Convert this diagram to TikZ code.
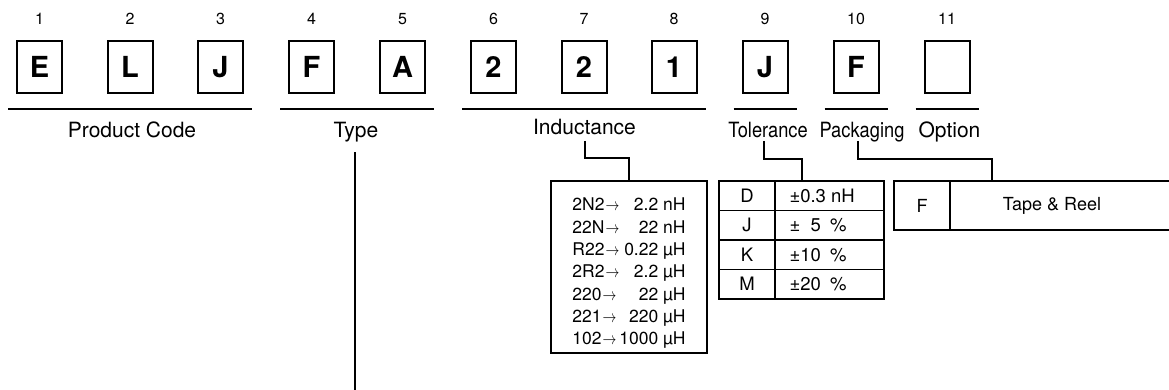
\documentclass[tikz,border=0pt]{standalone}
\usepackage{fontspec}
\setmainfont{TeX Gyre Heros}
\usepackage{graphicx}
\usetikzlibrary{positioning,calc}

\newcommand{\tarrow}{\hspace{1pt}\scalebox{0.8}[1]{$\rightarrow$}}

\tikzset{
  digit/.style={draw, line width=2pt, minimum width=45pt, minimum height=52pt, inner sep=0pt, font=\fontsize{29}{29}\selectfont\bfseries},
  posno/.style={inner sep=0pt, font=\fontsize{16}{16}\selectfont},
  group/.style={inner sep=0pt, anchor=base, font=\fontsize{21}{21}\selectfont},
  bar/.style={line width=1.8pt},
  link/.style={line width=2pt},
  cell/.style={draw, line width=1.6pt, outer sep=0pt, inner sep=0pt, minimum height=29.5pt, font=\fontsize{18.5}{18.5}\selectfont},
}

\begin{document}
\begin{tikzpicture}[x=1pt, y=-1pt]

\useasboundingbox[fill=white] (0,0) rectangle (1169,390);

% code letters
\node[digit] (b1) at (39.5,67) {E};
\node[digit] (b2) at (130,67) {L};
\node[digit] (b3) at (220.5,67) {J};
\node[digit] (b4) at (311.5,67) {F};
\node[digit] (b5) at (402.5,67) {A};
\node[digit] (b6) at (493.5,67) {2};
\node[digit] (b7) at (584,67) {2};
\node[digit] (b8) at (674,67) {1};
\node[digit] (b9) at (765,67) {J};
\node[digit] (b10) at (856,67) {F};
\node[digit] (b11) at (947,67) {};

% position numbers
\node[posno, above=15pt of b1] (p1) {1};
\node[posno, above=15pt of b2] (p2) {2};
\node[posno, above=15pt of b3] (p3) {3};
\node[posno, above=15pt of b4] (p4) {4};
\node[posno, above=15pt of b5] (p5) {5};
\node[posno, above=15pt of b6] (p6) {6};
\node[posno, above=15pt of b7] (p7) {7};
\node[posno, above=15pt of b8] (p8) {8};
\node[posno, above=15pt of b9] (p9) {9};
\node[posno, above=15pt of b10] (p10) {10};
\node[posno, above=15pt of b11] (p11) {11};

% underlines
\draw[bar] ([shift={(-8pt,-15pt)}]b1.south west) -- ([shift={(8pt,-15pt)}]b3.south east);
\draw[bar] ([shift={(-8pt,-15pt)}]b4.south west) -- ([shift={(8pt,-15pt)}]b5.south east);
\draw[bar] ([shift={(-8pt,-15pt)}]b6.south west) -- ([shift={(8pt,-15pt)}]b8.south east);
\draw[bar] ([shift={(-8pt,-15pt)}]b9.south west) -- ([shift={(8pt,-15pt)}]b9.south east);
\draw[bar] ([shift={(-8pt,-15pt)}]b10.south west) -- ([shift={(8pt,-15pt)}]b10.south east);
\draw[bar] ([shift={(-8pt,-15pt)}]b11.south west) -- ([shift={(8pt,-15pt)}]b11.south east);

% group names
\node[group] (prod) at (132,138) {Product Code};
\node[group] (type) at (356,137.5) {Type};
\node[group] (ind) at (584.5,135) {Inductance};
\node[group] (tol) at (768,138) {\scalebox{0.87}[1]{Tolerance}};
\node[group] (pack) at (862,138) {\scalebox{0.87}[1]{Packaging}};
\node[group] (opt) at (949.5,138) {Option};

% inductance codes
\node[draw, line width=2pt, minimum width=156pt, minimum height=172pt] (indtab) at (629,267) {};
\node[inner sep=0pt, font=\fontsize{17.5}{22.33}\selectfont] (indlist) at (629,273.4) {%
  \begin{tabular}{@{}l@{}r@{}}
  2N2\tarrow & 2.2 nH \\
  22N\tarrow & 22 nH \\
  R22\tarrow & 0.22 µH \\
  2R2\tarrow & 2.2 µH \\
  220\tarrow & 22 µH \\
  221\tarrow & 220 µH \\
  102\tarrow & 1000 µH
  \end{tabular}};

% tolerance codes
\node[cell, minimum width=56pt] (tk1) at (747,195.75) {D};
\node[cell, minimum width=109pt, right=0pt of tk1] (tv1) {\makebox[80pt][l]{±0.3 nH}};
\node[cell, minimum width=56pt, below=0pt of tk1] (tk2) {J};
\node[cell, minimum width=109pt, right=0pt of tk2] (tv2) {\makebox[80pt][l]{±\hphantom{0}5\enspace\%}};
\node[cell, minimum width=56pt, below=0pt of tk2] (tk3) {K};
\node[cell, minimum width=109pt, right=0pt of tk3] (tv3) {\makebox[80pt][l]{±10\enspace\%}};
\node[cell, minimum width=56pt, below=0pt of tk3] (tk4) {M};
\node[cell, minimum width=109pt, right=0pt of tk4] (tv4) {\makebox[80pt][l]{±20\enspace\%}};

% packaging codes
\node[cell, minimum width=56pt, minimum height=49pt, font=\fontsize{18}{18}\selectfont] (pk) at (922,205.5) {F};
\node[cell, draw=none, minimum width=204pt, minimum height=49pt, font=\fontsize{18}{18}\selectfont, right=0pt of pk] (pv) {Tape \& Reel};
\coordinate (edge) at (1169,0);
\draw[line width=1.6pt] (pk.north east) -- (pk.north east -| edge);
\draw[line width=1.6pt] (pk.south east) -- (pk.south east -| edge);

% connectors
\coordinate (typeend) at (355,390);
\coordinate (pkend) at (992,181);
\draw[link] ([shift={(-1pt,-15pt)}]type.base) -- (typeend);
\draw[link] ([yshift=-6pt]ind.base) -- ++(0,-17pt) -| (indtab.north);
\draw[link] ([shift={(-4pt,-3pt)}]tol.base) -- ++(0,-18pt) -| ($(tk1.north west)!.5!(tv1.north east)$);
\draw[link] ([shift={(-4pt,-3pt)}]pack.base) -- ++(0,-18pt) -| (pkend);

\end{tikzpicture}
\end{document}
